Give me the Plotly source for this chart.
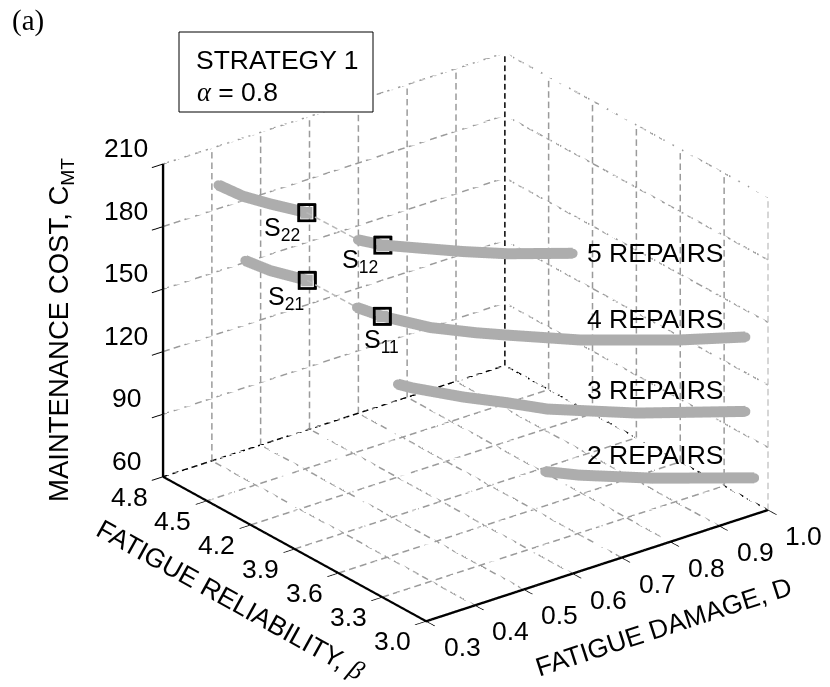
import numpy as np
import plotly.graph_objects as go

W, H = 830, 687

# ---- axis ticks ----
D_TICKS = [0.3, 0.4, 0.5, 0.6, 0.7, 0.8, 0.9, 1.0]
BETA_TICKS = [3.0, 3.3, 3.6, 3.9, 4.2, 4.5, 4.8]
COST_TICKS = [60, 90, 120, 150, 180, 210]

# ---- curves, each split where the reference shows a thin link ----
D_5A = [0.359, 0.383, 0.411, 0.444]
B_5A = [4.62, 4.53, 4.44, 4.30]
C_5A = [202.4, 198.6, 196.3, 195.0]
D_5B = [0.471, 0.495, 0.532, 0.590, 0.643, 0.735]
B_5B = [4.04, 3.95, 3.86, 3.72, 3.59, 3.45]
C_5B = [189.9, 189.0, 188.4, 187.5, 187.4, 186.0]

D_4A = [0.387, 0.406, 0.433]
B_4A = [4.53, 4.42, 4.26]
C_4A = [167.5, 165.4, 164.9]
D_4B = [0.454, 0.479, 0.539, 0.598, 0.632, 0.723, 0.873, 0.975]
B_4B = [3.99, 3.90, 3.77, 3.65, 3.56, 3.36, 3.18, 3.07]
C_4B = [160.7, 158.0, 153.0, 150.6, 150.4, 148.8, 144.3, 142.2]

D_3 = [0.511, 0.520, 0.580, 0.627, 0.671, 0.801, 0.975]
B_3 = [3.90, 3.83, 3.68, 3.54, 3.41, 3.23, 3.07]
C_3 = [123.0, 123.2, 120.0, 119.1, 117.7, 112.8, 106.5]

D_2 = [0.651, 0.706, 0.818, 0.984]
B_2 = [3.36, 3.31, 3.18, 3.04]
C_2 = [91.2, 87.2, 82.2, 75.1]

CURVE_GREY = "#adadad"
GRID_GREY = "#9a9a9a"

fig = go.Figure()


def seg(x, y, z, color=GRID_GREY, width=3, periods=32, on=0.62):
    """Dashed straight line between two 3D positions, drawn as short solid pieces."""
    t0 = np.arange(periods) / periods
    t1 = t0 + on / periods
    xs, ys, zs = [], [], []
    for a, b in zip(t0, t1):
        for arr, v in ((xs, x), (ys, y), (zs, z)):
            arr.extend([v[0] + a * (v[1] - v[0]), v[0] + b * (v[1] - v[0]), None])
    fig.add_trace(go.Scatter3d(x=xs, y=ys, z=zs, mode="lines",
                               line=dict(color=color, width=width),
                               connectgaps=False, hoverinfo="skip", showlegend=False))


Dmin, Dmax = D_TICKS[0], D_TICKS[-1]
Bmin, Bmax = BETA_TICKS[0], BETA_TICKS[-1]
Cmin, Cmax = COST_TICKS[0], COST_TICKS[-1]

# floor grid
for d in D_TICKS[:-1]:
    seg([d, d], [Bmin, Bmax], [Cmin, Cmin], periods=28)
for b in BETA_TICKS[:-1]:
    seg([Dmin, Dmax], [b, b], [Cmin, Cmin], periods=32)
# back walls
for d in D_TICKS[1:-1]:
    seg([d, d], [Bmax, Bmax], [Cmin, Cmax], periods=30)
for b in BETA_TICKS[1:-1]:
    seg([Dmax, Dmax], [b, b], [Cmin, Cmax], periods=30)
seg([Dmax, Dmax], [Bmin, Bmin], [Cmin, Cmax], color="#c8c8c8", periods=30)
for c in COST_TICKS[1:]:
    seg([Dmin, Dmax], [Bmax, Bmax], [c, c], periods=32)
    seg([Dmax, Dmax], [Bmin, Bmax], [c, c], periods=28)
# black back edges
seg([Dmin, Dmax], [Bmax, Bmax], [Cmin, Cmin], color="black", periods=36)
seg([Dmax, Dmax], [Bmin, Bmax], [Cmin, Cmin], color="black", periods=32)
seg([Dmax, Dmax], [Bmax, Bmax], [Cmin, Cmax], color="black", periods=34)

# thin links
seg([D_5A[-1], D_5B[0]], [B_5A[-1], B_5B[0]], [C_5A[-1], C_5B[0]], color="#b8b8b8", periods=6)
seg([D_4A[-1], D_4B[0]], [B_4A[-1], B_4B[0]], [C_4A[-1], C_4B[0]], color="#b8b8b8", periods=6)

# curves
for xs, ys, zs in [(D_5A, B_5A, C_5A), (D_5B, B_5B, C_5B), (D_4A, B_4A, C_4A),
                   (D_4B, B_4B, C_4B), (D_3, B_3, C_3), (D_2, B_2, C_2)]:
    fig.add_trace(go.Scatter3d(x=xs, y=ys, z=zs, mode="lines+markers",
                               line=dict(color=CURVE_GREY, width=22),
                               marker=dict(color=CURVE_GREY, size=5.5),
                               hoverinfo="skip", showlegend=False))

# selected solutions
sx = [D_5A[-1], D_5B[1], D_4A[-1], D_4B[1]]
sy = [B_5A[-1], B_5B[1], B_4A[-1], B_4B[1]]
sz = [C_5A[-1], C_5B[1], C_4A[-1], C_4B[1]]
fig.add_trace(go.Scatter3d(x=sx, y=sy, z=sz, mode="markers",
                           marker=dict(symbol="square", size=6, color=CURVE_GREY),
                           hoverinfo="skip", showlegend=False))
for msize in (6.6, 7.0, 7.4, 7.8):
    fig.add_trace(go.Scatter3d(x=sx, y=sy, z=sz, mode="markers",
                               marker=dict(symbol="square-open", size=msize, color="black",
                                           line=dict(color="black", width=4)),
                               hoverinfo="skip", showlegend=False))

FS = 26.5
font = dict(family="Liberation Sans", size=FS, color="black")
scene_ann = []
for c in COST_TICKS:
    scene_ann.append(dict(x=Dmin, y=Bmax, z=c, text=str(c), showarrow=False, font=font, xshift=-37, yshift=16))
for b in BETA_TICKS:
    scene_ann.append(dict(x=Dmin, y=b, z=Cmin, text=f"{b:.1f}", showarrow=False, font=font, xshift=-34, yshift=-20))
for d in D_TICKS:
    scene_ann.append(dict(x=d, y=Bmin, z=Cmin, text=f"{d:.1f}", showarrow=False, font=font, xshift=36, yshift=-26))

axis = dict(showgrid=False, zeroline=False, showbackground=False, showspikes=False,
            showticklabels=False, title=dict(text=""), showline=True, linecolor="black",
            linewidth=5, ticks="outside", ticklen=14, tickcolor="black", tickwidth=2)

ZOOM = 1.28
fig.update_layout(
    width=W, height=H, margin=dict(l=0, r=0, t=0, b=0), showlegend=False,
    paper_bgcolor="white", plot_bgcolor="white", hovermode=False,
    scene=dict(
        domain=dict(x=[0.1217, 1.0], y=[0.0189, 1.0]),
        aspectmode="manual", aspectratio=dict(x=ZOOM, y=ZOOM, z=0.8 * ZOOM),
        camera=dict(projection=dict(type="orthographic"), up=dict(x=0, y=0, z=1),
                    center=dict(x=0, y=0, z=0),
                    eye=dict(x=-0.5529 * 2, y=-0.7182 * 2, z=0.4228 * 2)),
        xaxis=dict(axis, range=[Dmin, Dmax], tickvals=D_TICKS),
        yaxis=dict(axis, range=[Bmin, Bmax], tickvals=BETA_TICKS),
        zaxis=dict(axis, range=[Cmin, Cmax], tickvals=COST_TICKS),
        annotations=scene_ann,
    ),
)


def label(x, y, text, size=FS, angle=0, family="Liberation Sans"):
    fig.add_annotation(x=x / W, y=1 - y / H, xref="paper", yref="paper", text=text,
                       showarrow=False, textangle=angle, xanchor="center", yanchor="middle",
                       font=dict(family=family, size=size, color="black"))


GREEK = "<span style=\"font-family:'Liberation Serif'\"><i>%s</i></span>"

fig.add_shape(type="rect", xref="paper", yref="paper", x0=179 / W, x1=373 / W,
              y0=1 - 112 / H, y1=1 - 32 / H, line=dict(color="black", width=1), fillcolor="white")
label(277, 60, "STRATEGY 1")
label(237, 92, GREEK % "α" + " = 0.8")
label(28, 20, "(a)", size=29, family="Liberation Serif")
label(655, 253, "5 REPAIRS")
label(655, 319, "4 REPAIRS")
label(655, 390, "3 REPAIRS")
label(655, 455, "2 REPAIRS")
label(282, 229, "S<sub>22</sub>", size=25)
label(360, 261, "S<sub>12</sub>", size=25)
label(286, 298, "S<sub>21</sub>", size=25)
label(381, 341, "S<sub>11</sub>", size=25)
label(60, 330, "MAINTENANCE COST, C<sub>MT</sub>", size=27.5, angle=-90)
label(231, 600, "FATIGUE RELIABILITY, " + GREEK % "β", size=26.5, angle=29)
label(663, 627, "FATIGUE DAMAGE, D", size=26.5, angle=-18)

fig.write_html("out.html", config=dict(displayModeBar=False),
               post_script="document.body.style.margin='0';")
